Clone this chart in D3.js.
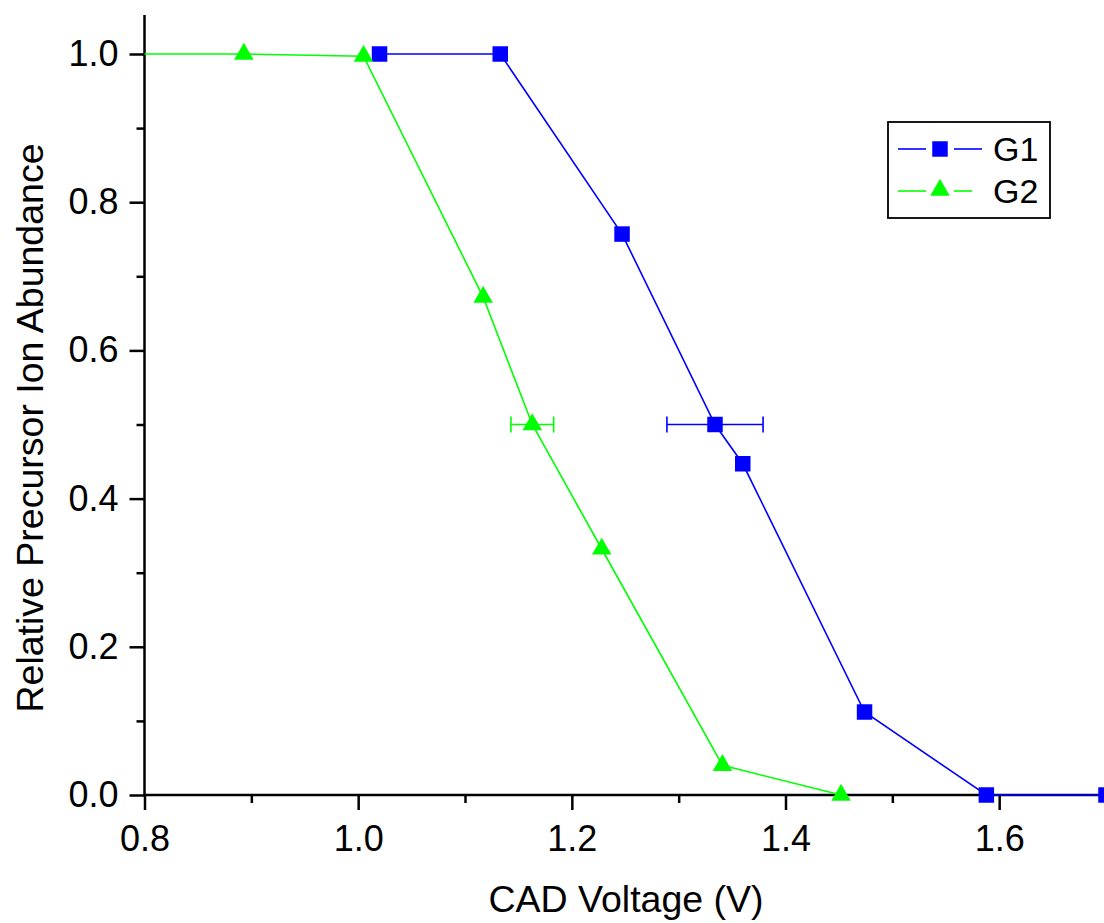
<!DOCTYPE html>
<html>
<head>
<meta charset="utf-8">
<script src="https://cdn.jsdelivr.net/npm/d3@7"></script>
<style>
  body { margin: 0; background: #fff; }
  svg { display: block; }
  text { font-family: "Liberation Sans", Arial, sans-serif; }
</style>
</head>
<body>
<script>
(function() {

	// data
	var g1Voltage = [1.020, 1.133, 1.247, 1.334, 1.360, 1.474, 1.588, 1.700];
	var g1Abundance = [1.000, 1.000, 0.757, 0.500, 0.447, 0.112, 0.000, 0.000];
	var g1Error = [0, 0, 0, 0.045, 0, 0, 0, 0];

	var g2Voltage = [0.780, 0.893, 1.005, 1.117, 1.163, 1.228, 1.341, 1.452];
	var g2Abundance = [1.000, 1.000, 0.997, 0.672, 0.500, 0.332, 0.040, 0.000];
	var g2Error = [0, 0, 0, 0, 0.020, 0, 0, 0];

	var xMajor = [0.8, 1.0, 1.2, 1.4, 1.6];
	var xMinor = [0.9, 1.1, 1.3, 1.5];
	var yMajor = [0.0, 0.2, 0.4, 0.6, 0.8, 1.0];
	var yMinor = [0.1, 0.3, 0.5, 0.7, 0.9];

	var seriesNames = ['G1', 'G2'];
	var seriesColors = ['#0000ff', '#00ff00'];

	var width = 1104, height = 923;
	var left = 144.5, bottom = 795;

	var svg = d3.select('body').append('svg')
		.attr('width', width).attr('height', height);

	var x = d3.scaleLinear().domain([0.8, 1.7]).range([left, 1106]);
	var y = d3.scaleLinear().domain([0, 1]).range([bottom, 54]);

	svg.append('defs').append('clipPath').attr('id', 'plot')
		.append('rect').attr('x', left).attr('y', 0)
		.attr('width', width - left).attr('height', bottom + 10);

	function zip(xs, ys, es) {
		return xs.map(function(v, i) { return { x: v, y: ys[i], e: es[i] }; });
	}
	var series = [
		{ name: seriesNames[0], color: seriesColors[0], shape: d3.symbolSquare, size: 240, pts: zip(g1Voltage, g1Abundance, g1Error) },
		{ name: seriesNames[1], color: seriesColors[1], shape: d3.symbolTriangle, size: 165, pts: zip(g2Voltage, g2Abundance, g2Error) }
	];

	// Axes
	var tickFont = 36, titleFont = 37.5;
	function styleAxis(g) {
		g.select('.domain').remove();
		g.selectAll('line').attr('stroke', '#000').attr('stroke-width', 2.5);
		g.selectAll('text').attr('font-size', tickFont).attr('fill', '#000')
			.attr('font-family', '"Liberation Sans", Arial, sans-serif');
	}

	svg.append('g').attr('transform', 'translate(0,' + bottom + ')')
		.call(d3.axisBottom(x).tickValues(xMajor).tickSize(15).tickPadding(15)
			.tickFormat(d3.format('.1f')))
		.call(styleAxis);
	svg.append('g').attr('transform', 'translate(0,' + bottom + ')')
		.call(d3.axisBottom(x).tickValues(xMinor).tickSize(8).tickFormat(''))
		.call(styleAxis);
	svg.append('g').attr('transform', 'translate(' + left + ',0)')
		.call(d3.axisLeft(y).tickValues(yMajor).tickSize(15).tickPadding(11)
			.tickFormat(d3.format('.1f')))
		.call(styleAxis);
	svg.append('g').attr('transform', 'translate(' + left + ',0)')
		.call(d3.axisLeft(y).tickValues(yMinor).tickSize(8).tickFormat(''))
		.call(styleAxis);

	// axis lines
	svg.append('line').attr('x1', left).attr('x2', left)
		.attr('y1', 15).attr('y2', bottom + 1)
		.attr('stroke', '#000').attr('stroke-width', 2.5);
	svg.append('line').attr('x1', left - 1).attr('x2', width)
		.attr('y1', bottom).attr('y2', bottom)
		.attr('stroke', '#000').attr('stroke-width', 2.5);

	// Titles
	svg.append('text').attr('x', 626).attr('y', 912)
		.attr('text-anchor', 'middle').attr('font-size', titleFont)
		.text('CAD Voltage (V)');
	svg.append('text')
		.attr('transform', 'translate(43,428) rotate(-90)')
		.attr('text-anchor', 'middle').attr('font-size', titleFont)
		.text('Relative Precursor Ion Abundance');

	// Series
	var plot = svg.append('g').attr('clip-path', 'url(#plot)');
	var line = d3.line().x(function(d) { return x(d.x); }).y(function(d) { return y(d.y); });

	series.forEach(function(s) {
		var g = plot.append('g');
		g.append('path').datum(s.pts).attr('d', line)
			.attr('fill', 'none').attr('stroke', s.color).attr('stroke-width', 1.6);

		var errs = s.pts.filter(function(d) { return d.e > 0; });
		errs.forEach(function(d) {
			var yy = y(d.y);
			g.append('line').attr('x1', x(d.x - d.e)).attr('x2', x(d.x + d.e))
				.attr('y1', yy).attr('y2', yy)
				.attr('stroke', s.color).attr('stroke-width', 1.6);
			[d.x - d.e, d.x + d.e].forEach(function(v) {
				g.append('line').attr('x1', x(v)).attr('x2', x(v))
					.attr('y1', yy - 8).attr('y2', yy + 8)
					.attr('stroke', s.color).attr('stroke-width', 1.6);
			});
		});

		g.selectAll('path.mark').data(s.pts).enter().append('path')
			.attr('class', 'mark')
			.attr('d', d3.symbol().type(s.shape).size(s.size))
			.attr('transform', function(d) { return 'translate(' + x(d.x) + ',' + y(d.y) + ')'; })
			.attr('fill', s.color);
	});

	// Legend
	var legend = svg.append('g');
	legend.append('rect').attr('x', 888).attr('y', 122).attr('width', 162).attr('height', 96)
		.attr('fill', '#fff').attr('stroke', '#000').attr('stroke-width', 1.8);
	var rowY = [149, 191];
	series.forEach(function(s, i) {
		var ry = rowY[i];
		legend.append('line').attr('x1', 898).attr('x2', 926).attr('y1', ry).attr('y2', ry)
			.attr('stroke', s.color).attr('stroke-width', 1.6);
		legend.append('line').attr('x1', 954).attr('x2', i === 0 ? 982 : 972).attr('y1', ry).attr('y2', ry)
			.attr('stroke', s.color).attr('stroke-width', 1.6);
		legend.append('path')
			.attr('d', d3.symbol().type(s.shape).size(s.size))
			.attr('transform', 'translate(940,' + (i === 0 ? ry : ry - 1) + ')')
			.attr('fill', s.color);
		legend.append('text').attr('x', 993).attr('y', ry + 12)
			.attr('font-size', 34).text(s.name);
	});

})();
</script>
</body>
</html>
